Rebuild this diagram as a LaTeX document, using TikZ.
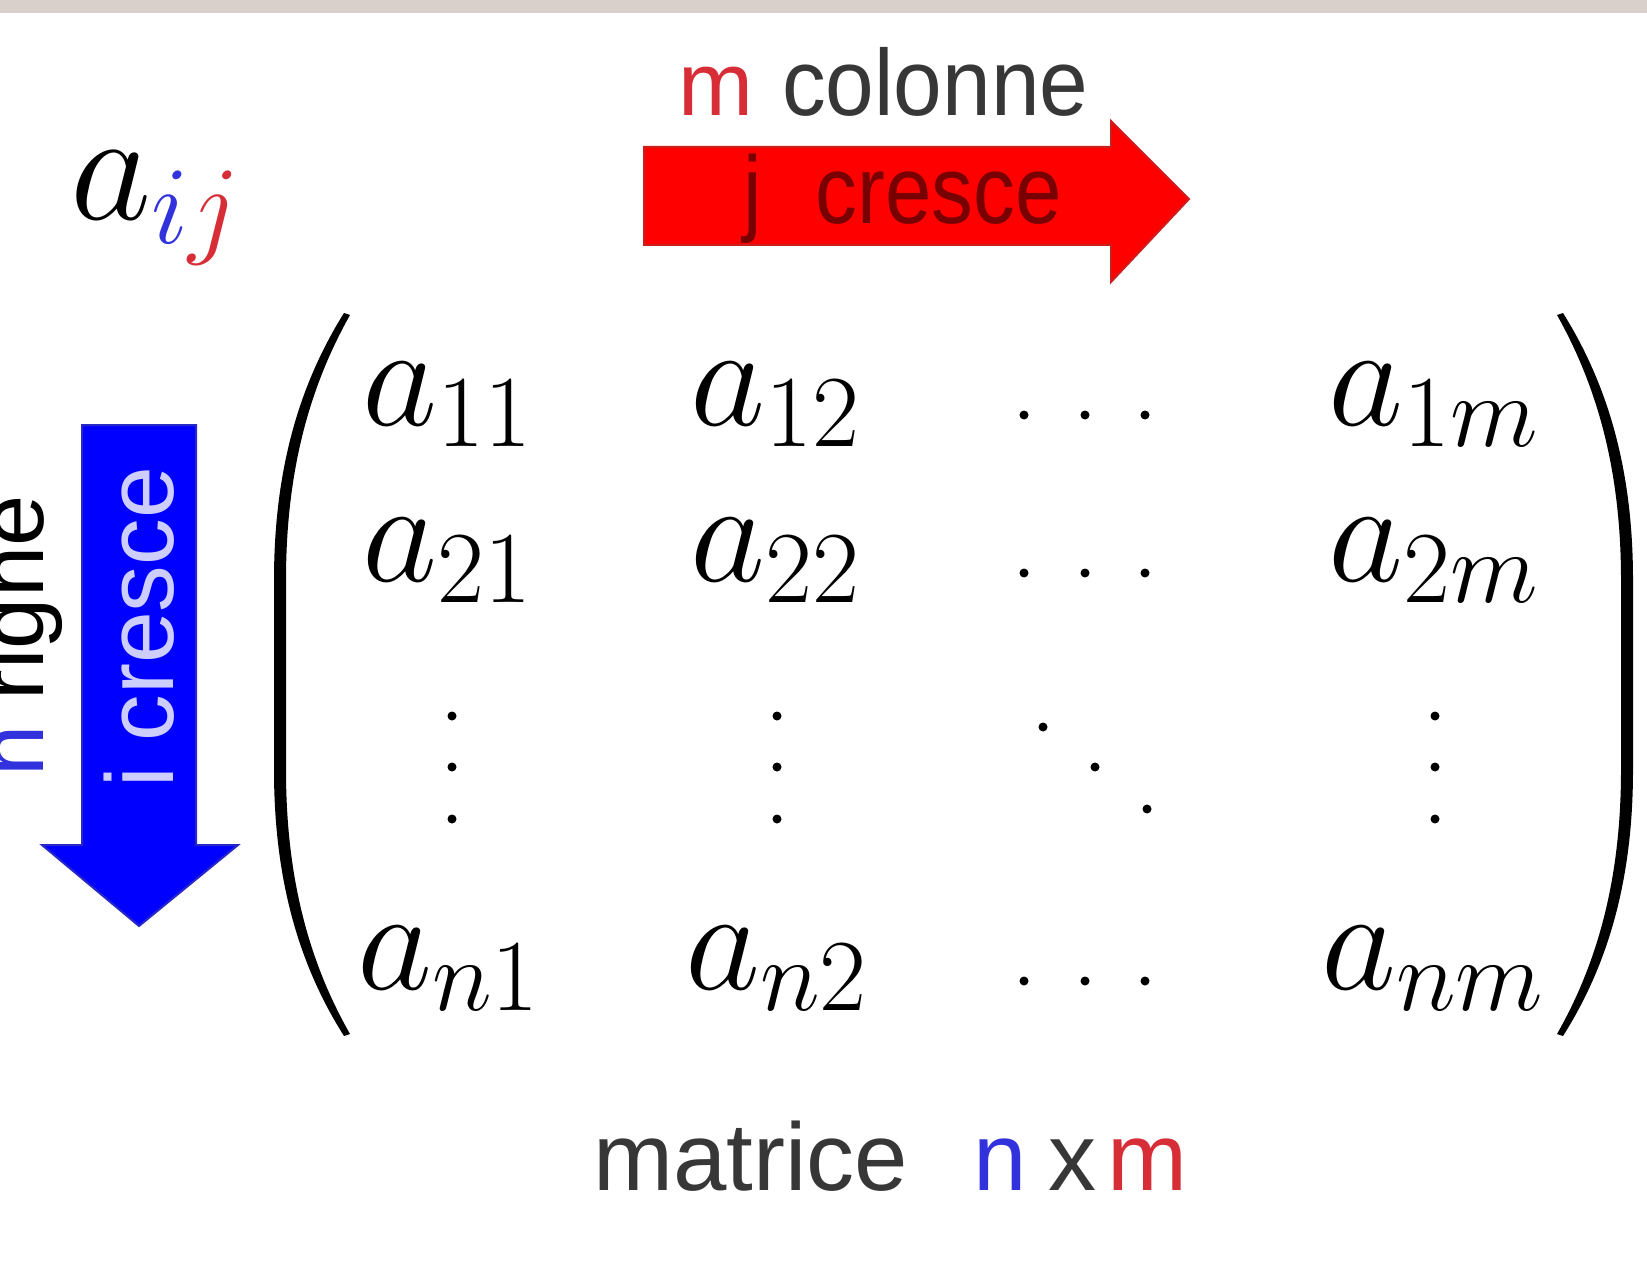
\documentclass[tikz,border=0pt]{standalone}
\usepackage{fix-cm}
\usepackage{fontspec}
\newfontfamily\arialf{Liberation Sans}
\definecolor{bandgray}{RGB}{218,208,203}
\definecolor{arrred}{RGB}{255,0,0}
\definecolor{arrredline}{RGB}{205,30,30}
\definecolor{arrtext}{RGB}{120,0,0}
\definecolor{arrblue}{RGB}{0,0,255}
\definecolor{arrblueline}{RGB}{40,40,200}
\definecolor{bluetext}{RGB}{205,205,255}
\definecolor{idxblue}{RGB}{50,50,220}
\definecolor{idxred}{RGB}{215,45,55}
\definecolor{txtgray}{RGB}{55,55,55}
\tikzset{
  mtx/.style={anchor=base west, inner sep=0pt, font=\fontsize{146}{150}\selectfont},
  lbl/.style={anchor=base west, inner sep=0pt},
  dotmark/.style={fill=black},
  paren/.style={fill=black},
}
\begin{document}
\begin{tikzpicture}[x=1pt,y=-1pt]
\useasboundingbox (0,0) rectangle (1647,1273);
\clip (0,0) rectangle (1647,1273);
\fill[white] (0,0) rectangle (1647,1273);
\fill[bandgray] (0,0) rectangle (1647,13);

% a_ij
\node[mtx, font=\fontsize{158}{160}\selectfont] (aij) at (70,220)
  {$a_{\textcolor{idxblue}{i}\textcolor{idxred}{j}}$};

% red arrow
\filldraw[fill=arrred, draw=arrredline, line width=2pt]
  (644,147) -- (1111,147) -- (1111,121) -- (1189,199) -- (1111,282) -- (1111,245) -- (644,245) -- cycle;
\node[lbl, xscale=0.87, text=arrtext, font=\arialf\fontsize{96}{100}\selectfont] (jcr) at (743,224)
  {j\hspace{0.65em}cresce};

% m colonne
\node[lbl, text=idxred, font=\arialf\fontsize{90}{95}\selectfont] (mcol) at (678,116) {m};
\node[lbl, xscale=0.93, text=txtgray, font=\arialf\fontsize{94}{98}\selectfont] (colonne) at (782,116) {colonne};

% blue arrow
\filldraw[fill=arrblue, draw=arrblueline, line width=2pt]
  (82,425) -- (196,425) -- (196,845) -- (238,845) -- (139,926) -- (42,845) -- (82,845) -- cycle;
\node[lbl, rotate=90, xscale=0.97, text=bluetext, font=\arialf\fontsize{96}{100}\selectfont] (icr) at (173,788)
  {i cresce};

% n righe (cut off at the left edge, as in the reference)
\node[lbl, rotate=90, text=black, font=\arialf\fontsize{92}{96}\selectfont] (nrighe) at (43,777)
  {\textcolor{idxblue}{n} righe};

% parentheses
\fill[paren] (344,313) .. controls (299,385) and (274,470) .. (274,580) -- (274,770)
  .. controls (274,880) and (299,965) .. (344,1036)
  -- (350,1034) .. controls (309,962) and (286,878) .. (286,770) -- (286,580)
  .. controls (286,472) and (309,388) .. (350,315) -- cycle;
\begin{scope}[xshift=1907pt, xscale=-1]
\fill[paren] (344,313) .. controls (299,385) and (274,470) .. (274,580) -- (274,770)
  .. controls (274,880) and (299,965) .. (344,1036)
  -- (350,1034) .. controls (309,962) and (286,878) .. (286,770) -- (286,580)
  .. controls (286,472) and (309,388) .. (350,315) -- cycle;
\end{scope}

% entries
\node[mtx] (a11) at (362,425) {$a_{11}$};
\node[mtx] (a12) at (690,425) {$a_{12}$};
\node[mtx] (a1m) at (1328,425) {$a_{1m}$};
\node[mtx] (a21) at (362,581) {$a_{21}$};
\node[mtx] (a22) at (690,581) {$a_{22}$};
\node[mtx] (a2m) at (1328,581) {$a_{2m}$};
\node[mtx] (an1) at (357,989) {$a_{n1}$};
\node[mtx] (an2) at (685,989) {$a_{n2}$};
\node[mtx] (anm) at (1321,989) {$a_{nm}$};

% dots
\foreach \yy in {415,573,981}
  \foreach \xx in {1024,1085,1145}
    \fill[dotmark] (\xx,\yy) circle (4.5);
\foreach \xx in {452,777,1435}
  \foreach \yy in {716,767,819}
    \fill[dotmark] (\xx,\yy) circle (4.5);
\foreach \xx/\yy in {1043/727,1095/767,1147/809}
  \fill[dotmark] (\xx,\yy) circle (4.5);

% bottom label
\node[lbl, text=txtgray, font=\arialf\fontsize{96}{100}\selectfont] (matr) at (593,1190) {matrice};
\node[lbl, text=idxblue, font=\arialf\fontsize{96}{100}\selectfont] (nlab) at (973,1190) {n};
\node[lbl, text=txtgray, font=\arialf\fontsize{96}{100}\selectfont] (xlab) at (1048,1190) {x};
\node[lbl, text=idxred, font=\arialf\fontsize{96}{100}\selectfont] (mlab) at (1107,1190) {m};
\end{tikzpicture}
\end{document}
